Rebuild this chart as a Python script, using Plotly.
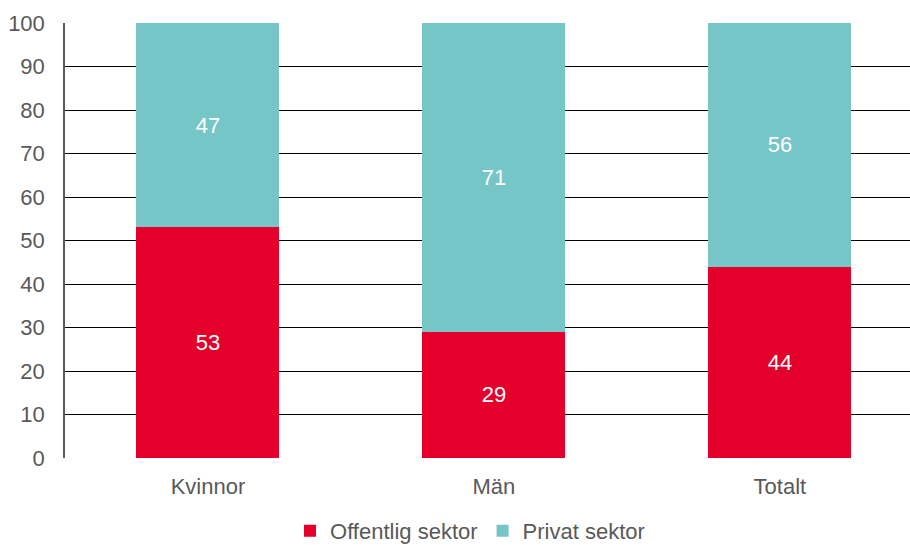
import plotly.graph_objects as go

categories = ['Kvinnor', 'Män', 'Totalt']
offentlig = [53, 29, 44]
privat = [47, 71, 56]
y_ticks = [0, 10, 20, 30, 40, 50, 60, 70, 80, 90, 100]

red = '#E4002B'
teal = '#76C5C7'
font_family = 'Liberation Sans, Arial, sans-serif'

fig = go.Figure()
fig.add_trace(go.Bar(x=categories, y=offentlig, name='Offentlig sektor',
                     marker=dict(color=red, line=dict(width=0)),
                     text=offentlig, textposition='inside', insidetextanchor='middle',
                     textfont=dict(color='white', size=22, family=font_family),
                     width=0.5))
fig.add_trace(go.Bar(x=categories, y=privat, name='Privat sektor',
                     marker=dict(color=teal, line=dict(width=0)),
                     text=privat, textposition='inside', insidetextanchor='middle',
                     textfont=dict(color='white', size=22, family=font_family),
                     width=0.5))

fig.update_layout(
    barmode='stack',
    width=910, height=545,
    margin=dict(l=65, r=0, t=23, b=87),
    plot_bgcolor='white', paper_bgcolor='white',
    font=dict(family=font_family, size=22, color='#595959'),
    xaxis=dict(range=[-0.5, 2.455], showgrid=False, zeroline=False, automargin=False,
               showline=False, ticks='', tickfont=dict(size=22, color='#595959'),
               ticklabelstandoff=13),
    yaxis=dict(range=[0, 100], tickvals=y_ticks, showgrid=True, gridcolor='black',
               gridwidth=1, zeroline=False, showline=True, linecolor='#595959', linewidth=1.5,
               automargin=False,
               ticks='', tickfont=dict(size=22, color='#595959'), ticklabelstandoff=14),
    legend=dict(orientation='h', xref='container', x=0.5165, xanchor='center',
                yref='container', y=0.026, yanchor='middle',
                font=dict(size=22, color='#595959'), traceorder='normal',
                itemwidth=30),
    showlegend=True,
)

fig.write_html("out.html", config={'displayModeBar': False},
               post_script="document.body.style.margin='0';")
